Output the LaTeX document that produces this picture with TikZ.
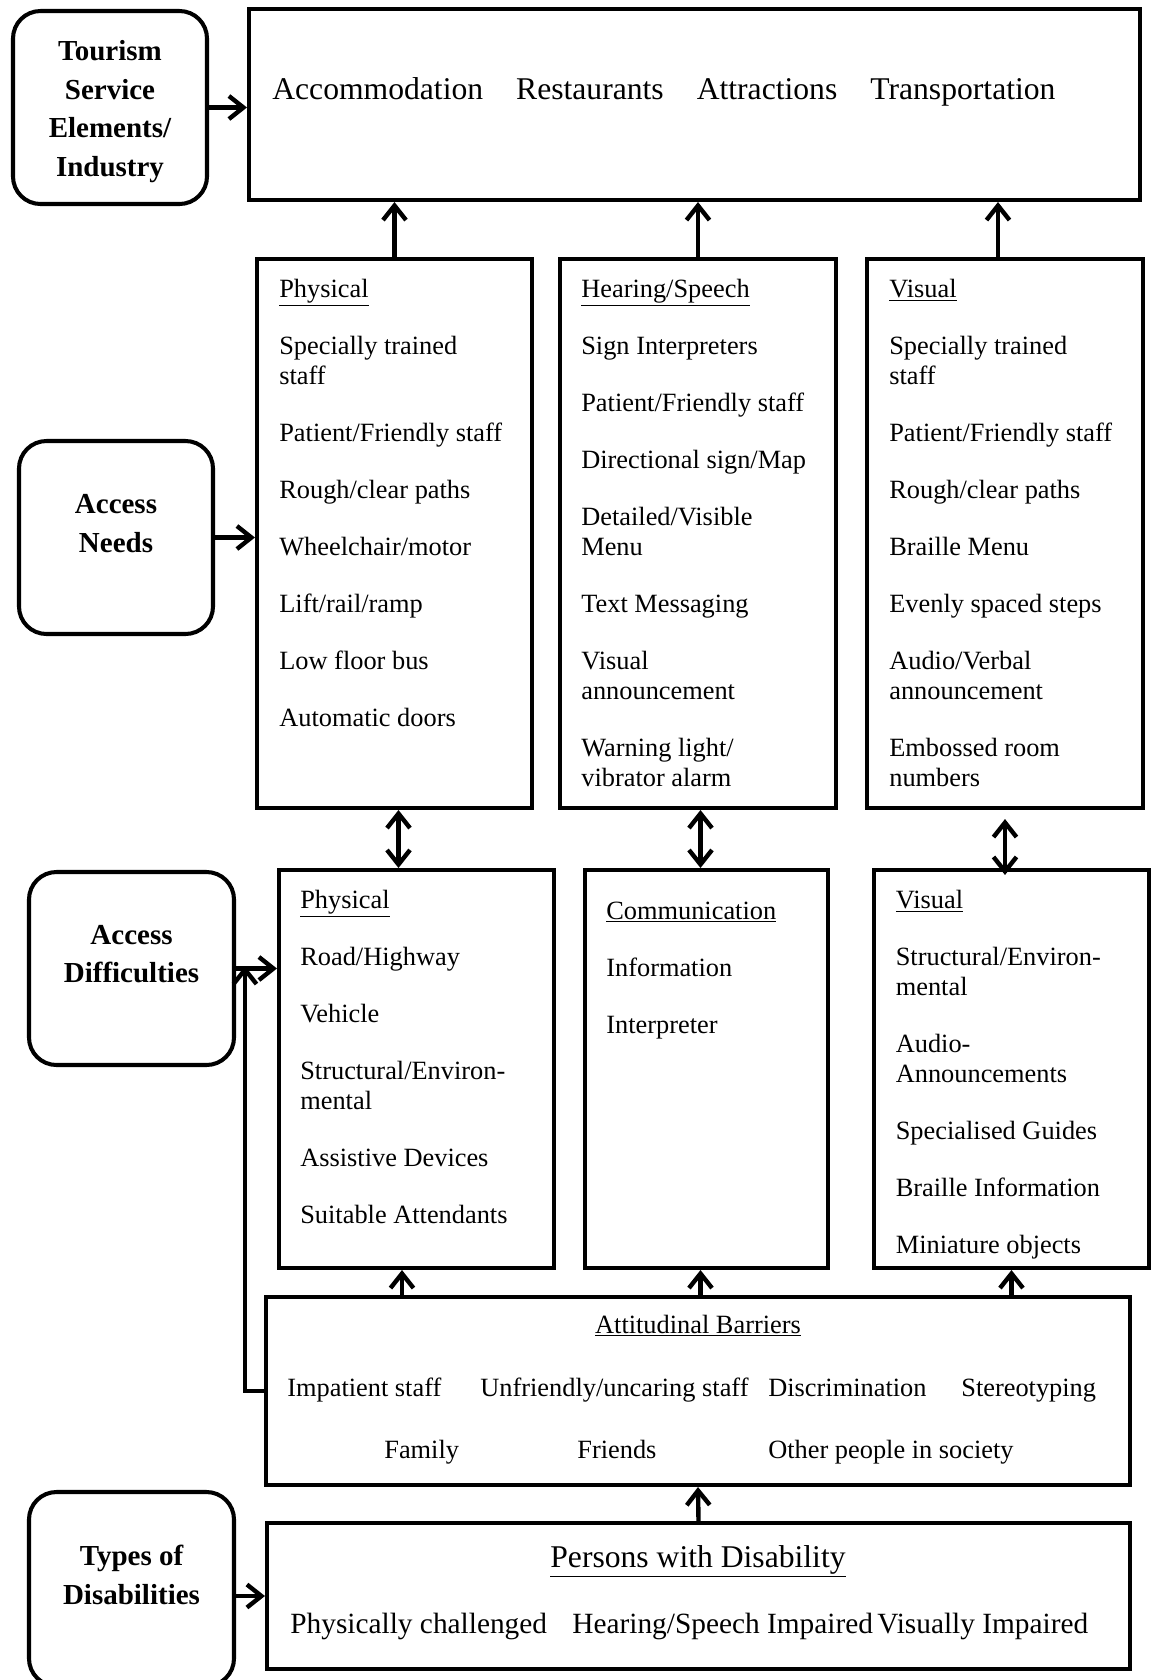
\documentclass[tikz,border=0pt]{standalone}
\usepackage{fontspec}
\setmainfont{Liberation Serif}
\usetikzlibrary{arrows.meta,fit}

\newcommand\itemsize{\fontsize{15}{17}\selectfont}
\newcommand\sidesize{\fontsize{16.5}{22}\selectfont}
\newcommand\bigsize{\fontsize{18}{22}\selectfont}
\newcommand\rowsize{\fontsize{16.7}{20}\selectfont}
\newcommand\itemgap{\\[15.5pt]}

\tikzset{
	box/.style={draw, line width=2.3pt, inner sep=0pt},
	side/.style={box, rounded corners=5.5mm},
	sidetext/.style={font=\sidesize\bfseries, align=center},
	items/.style={anchor=north west, inner sep=0pt, align=left, font=\itemsize},
	word/.style={anchor=base west, inner sep=0pt, font=\itemsize},
	link/.style={line width=2.5pt, -{Straight Barb[length=2.9mm,width=4.6mm]}},
	twoway/.style={line width=2.5pt, {Straight Barb[length=2.9mm,width=4.6mm]}-{Straight Barb[length=2.9mm,width=4.6mm]}}
}

\begin{document}
\begin{tikzpicture}[x=0.2mm,y=-0.2mm]
		\path[use as bounding box, fill=white] (0,0) rectangle (1158,1680);

		\node[side, fit={(13,11) (207,204)}] (tourism) {};
		\node[sidetext] (tourismtxt) at ([yshift=-0.8mm]tourism.center) {Tourism\\Service\\Elements/\\Industry};
		\node[side, fit={(19,441) (213,634)}] (needs) {};
		\node[sidetext] (needstxt) at ([yshift=2.85mm]needs.center) {Access\\Needs};
		\node[side, fit={(29,872) (234,1065)}] (difficulties) {};
		\node[sidetext] (difficultiestxt) at ([yshift=2.85mm]difficulties.center) {Access\\Difficulties};
		\node[side, fit={(29,1492) (234,1686)}] (types) {};
		\node[sidetext] (typestxt) at ([yshift=2.85mm]types.center) {Types of\\Disabilities};

		\node[box, fit={(249,9) (1140,200)}] (services) {};
		\node[anchor=base west, inner sep=0pt, font=\bigsize] (servicestxt) at (272,99) {Accommodation\hspace{6.6mm}Restaurants\hspace{6.6mm}Attractions\hspace{6.6mm}Transportation};

		\node[box, fit={(257,259) (532,808)}] (needP) {};
		\node[items] (needPtxt) at ([xshift=4.8mm,yshift=-4.3mm]needP.north west) {\underline{Physical}\itemgap Specially trained\\staff\itemgap Patient/Friendly staff\itemgap Rough/clear paths\itemgap Wheelchair/motor\itemgap Lift/rail/ramp\itemgap Low floor bus\itemgap Automatic doors};
		\node[box, fit={(560,259) (836,808)}] (needH) {};
		\node[items] (needHtxt) at ([xshift=4.6mm,yshift=-4.3mm]needH.north west) {\underline{Hearing/Speech}\itemgap Sign Interpreters\itemgap Patient/Friendly staff\itemgap Directional sign/Map\itemgap Detailed/Visible\\Menu\itemgap Text Messaging\itemgap Visual\\announcement\itemgap Warning light/\\vibrator alarm};
		\node[box, fit={(867,259) (1143,808)}] (needV) {};
		\node[items] (needVtxt) at ([xshift=4.8mm,yshift=-4.3mm]needV.north west) {\underline{Visual}\itemgap Specially trained\\staff\itemgap Patient/Friendly staff\itemgap Rough/clear paths\itemgap Braille Menu\itemgap Evenly spaced steps\itemgap Audio/Verbal\\announcement\itemgap Embossed room\\numbers};

		\node[box, fit={(279,870) (554,1268)}] (diffP) {};
		\node[items] (diffPtxt) at ([xshift=4.6mm,yshift=-4.3mm]diffP.north west) {\underline{Physical}\itemgap Road/Highway\itemgap Vehicle\itemgap Structural/Environ-\\mental\itemgap Assistive Devices\itemgap Suitable Attendants};
		\node[box, fit={(585,870) (828,1268)}] (diffC) {};
		\node[items] (diffCtxt) at ([xshift=4.6mm,yshift=-6.65mm]diffC.north west) {\underline{Communication}\itemgap Information\itemgap Interpreter};
		\node[box, fit={(874,870) (1149,1268)}] (diffV) {};
		\node[items] (diffVtxt) at ([xshift=4.7mm,yshift=-4.3mm]diffV.north west) {\underline{Visual}\itemgap Structural/Environ-\\mental\itemgap Audio-\\Announcements\itemgap Specialised Guides\itemgap Braille Information\itemgap Miniature objects};

		\node[box, fit={(266,1297) (1130,1485)}] (barriers) {};
		\node[anchor=base, inner sep=0pt, font=\itemsize] (barrierstitle) at (698,1333) {\underline{Attitudinal Barriers}};
		\node[word] (impatient) at (287,1396) {Impatient staff};
		\node[word] (unfriendly) at (480,1396) {Unfriendly/uncaring staff};
		\node[word] (discrimination) at (768,1396) {Discrimination};
		\node[word] (stereotyping) at (961,1396) {Stereotyping};
		\node[word] (family) at (384,1458) {Family};
		\node[word] (friends) at (577,1458) {Friends};
		\node[word] (society) at (768,1458) {Other people in society};

		\node[box, fit={(267,1523) (1130,1669)}] (persons) {};
		\node[anchor=base, inner sep=0pt, font=\bigsize] (personstitle) at (698,1567) {\underline{Persons with Disability}};
		\node[word, font=\rowsize] (physically) at (290,1633) {Physically challenged};
		\node[word, font=\rowsize] (hearing) at (572,1633) {Hearing/Speech Impaired};
		\node[word, font=\rowsize] (visually) at (877,1633) {Visually Impaired};

		\draw[link] (tourism.east) -- (tourism.east -| services.west);
		\draw[link] (needs.east) -- (needs.east -| needP.west);
		\draw[link] (difficulties.east) -- (difficulties.east -| diffP.west);
		\draw[link] (types.east |- persons.west) -- (persons.west);

		\draw[link] (needP.north) -- (needP.north |- services.south);
		\draw[link] (needH.north) -- (needH.north |- services.south);
		\coordinate (needVtop) at ([xshift=-1.4mm]needV.north);
		\draw[link] (needVtop) -- (needVtop |- services.south);

		\coordinate (pairP) at ([xshift=0.8mm]needP.south);
		\draw[twoway] (pairP) -- (pairP |- diffP.north);
		\coordinate (pairH) at ([xshift=0.5mm]needH.south);
		\draw[twoway] (pairH) -- (pairH |- diffC.north);
		\coordinate (pairV) at ([yshift=-1.8mm]needV.south);
		\coordinate (pairVend) at ([yshift=-1.4mm]diffV.north);
		\draw[twoway] (pairV) -- (pairV |- pairVend);

		\coordinate (upP) at ([xshift=-2.9mm]diffP.south);
		\draw[link] (barriers.north -| upP) -- (upP);
		\coordinate (upC) at ([xshift=-1.2mm]diffC.south);
		\draw[link] (barriers.north -| upC) -- (upC);
		\draw[link] (barriers.north -| diffV.south) -- (diffV.south);
		\draw[link] (persons.north) -- (barriers.south);

		\coordinate (sidejoin) at (245,966);
		\draw[link] (barriers.west) -| (sidejoin);
\end{tikzpicture}
\end{document}
